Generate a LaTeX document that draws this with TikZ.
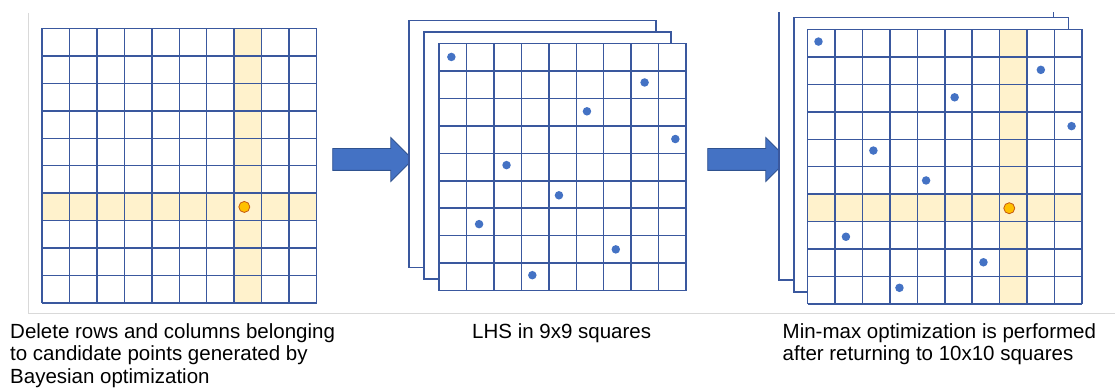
\documentclass[tikz,border=0pt]{standalone}
\usepackage{fontspec}
\setmainfont{Liberation Sans}
\usetikzlibrary{shapes.arrows, positioning}
\definecolor{GridBlue}{RGB}{58,88,158}
\definecolor{DotBlue}{RGB}{68,114,196}
\definecolor{ArrEdge}{RGB}{47,82,143}
\definecolor{HiYellow}{RGB}{255,242,204}
\definecolor{CandFill}{RGB}{255,192,0}
\definecolor{CandEdge}{RGB}{197,90,17}
\definecolor{FrameGray}{RGB}{217,217,217}
\def\cs{27.45}

\begin{document}
\begin{tikzpicture}[x=1pt, y=-1pt,
            gridline/.style={draw=GridBlue, line width=1.5pt},
            sheet/.style={draw=GridBlue, line width=1.3pt, fill=white},
            pt/.style={circle, fill=DotBlue, inner sep=0pt, minimum size=8.5pt},
            cand/.style={circle, fill=CandFill, draw=CandEdge, line width=0.8pt,
                         inner sep=0pt, minimum size=11pt},
            bigarr/.style={single arrow, fill=DotBlue, draw=ArrEdge, line width=0.8pt,
                           inner sep=10.5pt, single arrow head extend=11pt,
                           minimum height=80pt, anchor=tail},
            caption/.style={font=\fontsize{20.5}{22.5}\selectfont, align=left,
                            inner sep=0pt, anchor=north west}
          ]
          \useasboundingbox (0,0) rectangle (1115,390);
          \draw[FrameGray, line width=1pt] (28.3,13) -- (28.3,313.5) -- (1115,313.5);

          % 10x10 grid with candidate point
          \begin{scope}[shift={(42,28.5)}]
            \fill[HiYellow] (7*\cs,0) rectangle (8*\cs,10*\cs);
            \fill[HiYellow] (0,6*\cs) rectangle (10*\cs,7*\cs);
            \foreach \i in {0,...,10} {
              \draw[gridline] (\i*\cs,0) -- (\i*\cs,10*\cs);
              \draw[gridline] (0,\i*\cs) -- (10*\cs,\i*\cs);
            }
            \node[cand] (lc) at (7.37*\cs,6.5*\cs) {};
          \end{scope}

          \node[bigarr] (arr1) at (332.3,159.5) {};

          % LHS in 9x9 (stacked sheets)
          \begin{scope}[shift={(409,20.5)}]
            \draw[sheet] (0,0) rectangle (9*\cs,9*\cs);
            \draw[sheet] (15,11.5) rectangle ++(9*\cs,9*\cs);
            \begin{scope}[shift={(30,23)}]
              \fill[white] (0,0) rectangle (9*\cs,9*\cs);
              \foreach \i in {0,...,9} {
                \draw[gridline] (\i*\cs,0) -- (\i*\cs,9*\cs);
                \draw[gridline] (0,\i*\cs) -- (9*\cs,\i*\cs);
              }
              \foreach \px/\py [count=\k] in {0.45/0.49, 7.49/1.42, 5.39/2.47,
                  8.61/3.48, 2.46/4.43, 4.37/5.53, 1.46/6.58, 6.44/7.50, 3.40/8.44}
                \node[pt] (m\k) at (\px*\cs,\py*\cs) {};
            \end{scope}
          \end{scope}

          \node[bigarr] (arr2) at (707.3,159.5) {};

          % back to 10x10, min-max
          \begin{scope}
            \clip (700,12.5) rectangle (1115,400);
            \draw[sheet] (779,5.5) rectangle ++(10*\cs,10*\cs);
          \end{scope}
          \begin{scope}[shift={(779,5.5)}]
            \draw[sheet] (15,12) rectangle ++(10*\cs,10*\cs);
            \begin{scope}[shift={(28.5,24)}]
              \fill[white] (0,0) rectangle (10*\cs,10*\cs);
              \fill[HiYellow] (7*\cs,0) rectangle (8*\cs,10*\cs);
              \fill[HiYellow] (0,6*\cs) rectangle (10*\cs,7*\cs);
              \foreach \i in {0,...,10} {
                \draw[gridline] (\i*\cs,0) -- (\i*\cs,10*\cs);
                \draw[gridline] (0,\i*\cs) -- (10*\cs,\i*\cs);
              }
              \foreach \px/\py [count=\k] in {0.40/0.44, 8.50/1.47, 5.36/2.47,
                  9.62/3.52, 2.40/4.41, 4.32/5.50, 1.40/7.55, 6.41/8.48, 3.35/9.41}
                \node[pt] (r\k) at (\px*\cs,\py*\cs) {};
              \node[cand] (rc) at (7.35*\cs,6.51*\cs) {};
            \end{scope}
          \end{scope}

          % captions
          \node[caption] (capl) at (10,323) {Delete rows and columns belonging\\
                to candidate points generated by\\Bayesian optimization};
          \node[caption] (capm) at (472,323) {LHS in 9x9 squares};
          \node[caption] (capr) at (782.5,323) {Min-max optimization is performed\\
                after returning to 10x10 squares};
        \end{tikzpicture}
\end{document}
